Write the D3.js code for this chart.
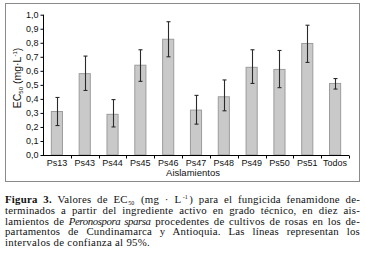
<!DOCTYPE html>
<html><head><meta charset="utf-8">
<script src="https://cdn.jsdelivr.net/npm/d3@7"></script>
<style>
body{margin:0;background:#fff;width:365px;height:260px;overflow:hidden;position:relative}
svg{position:absolute;left:0;top:0}
#cap{position:absolute;left:5px;top:194px;width:355px;font-family:"Liberation Serif","DejaVu Serif",serif;font-size:10.8px;line-height:10.8px;letter-spacing:0.3px;color:#111}
#cap .l{text-align:justify;text-align-last:justify;white-space:nowrap;height:10.8px}
#cap .last{text-align:left;text-align-last:left}
#cap i{letter-spacing:-0.4px}
.sb{font-size:6px;line-height:6px;vertical-align:baseline;position:relative;top:1.5px;margin:0 1px 0 0.5px;letter-spacing:0}
.sp{font-size:6px;line-height:6px;vertical-align:baseline;position:relative;top:-4px;margin:0 1.5px 0 1.5px;letter-spacing:0}
</style></head><body>
<svg id="c" width="365" height="260"></svg>
<div id="cap">
<div class="l"><b>Figura 3.</b> Valores de EC<span class="sb">50</span> (mg · L<span class="sp">-1</span>) para el fungicida fenamidone de-</div>
<div class="l">terminados a partir del ingrediente activo en grado técnico, en diez ais-</div>
<div class="l">lamientos de <i>Peronospora sparsa</i> procedentes de cultivos de rosas en los de-</div>
<div class="l">partamentos de Cundinamarca y Antioquia. Las líneas representan los</div>
<div class="l last">intervalos de confianza al 95%.</div>
</div>
<script>
const categories = ["Ps13","Ps43","Ps44","Ps45","Ps46","Ps47","Ps48","Ps49","Ps50","Ps51","Todos"];
const values = [0.31,0.58,0.29,0.64,0.825,0.32,0.415,0.625,0.61,0.795,0.51];
const lower  = [0.21,0.46,0.20,0.525,0.70,0.22,0.315,0.51,0.48,0.66,0.47];
const upper  = [0.41,0.705,0.395,0.75,0.95,0.425,0.535,0.75,0.745,0.925,0.545];
const yTicks = [0,0.1,0.2,0.3,0.4,0.5,0.6,0.7,0.8,0.9,1.0];

// shrink letter spacing of caption lines that are naturally wider than the column
document.querySelectorAll("#cap .l").forEach(el=>{
  const probe = document.createElement("span");
  probe.style.whiteSpace="nowrap";
  probe.innerHTML = el.innerHTML;
  el.innerHTML=""; el.appendChild(probe);
  const w = probe.getBoundingClientRect().width;
  el.innerHTML = probe.innerHTML;
  if (w > 353) {
    const n = el.textContent.length;
    el.style.letterSpacing = (0.3-(w-350)/n).toFixed(3)+"px";
  }
});

const svg = d3.select("#c");
svg.append("rect").attr("x",5.5).attr("y",3.5).attr("width",354).attr("height",178)
  .attr("fill","none").attr("stroke","#8a8a8a").attr("stroke-width",1);

const x = d3.scaleBand().domain(categories).range([43,349]).paddingInner(0.6).paddingOuter(0.3);
const y = d3.scaleLinear().domain([0,1]).range([155,14.7]);
const font = "Liberation Sans, Arial, sans-serif";

svg.selectAll("rect.bar").data(categories).join("rect").attr("class","bar")
  .attr("x",d=>x(d)).attr("width",x.bandwidth())
  .attr("y",(d,i)=>y(values[i])).attr("height",(d,i)=>y(0)-y(values[i]))
  .attr("fill","#c9c9c9").attr("stroke","#9c9c9c").attr("stroke-width",1);

const eg = svg.append("g").attr("stroke","#2a2a2a").attr("stroke-width",1.1);
categories.forEach((c,i)=>{
  const cx = Math.round(x(c)+x.bandwidth()/2)+0.5;
  eg.append("line").attr("x1",cx).attr("x2",cx).attr("y1",y(lower[i])).attr("y2",y(upper[i]));
  eg.append("line").attr("x1",cx-2).attr("x2",cx+2).attr("y1",y(lower[i])).attr("y2",y(lower[i]));
  eg.append("line").attr("x1",cx-2).attr("x2",cx+2).attr("y1",y(upper[i])).attr("y2",y(upper[i]));
});

const ya = svg.append("g").attr("transform","translate(43.5,0)")
  .call(d3.axisLeft(y).tickValues(yTicks).tickSize(3).tickPadding(2)
    .tickFormat(d=>d3.format(".1f")(d).replace(".",",")));
ya.selectAll("text").attr("font-family",font).attr("font-size","9px").attr("fill","#111");
ya.select(".domain").attr("d","M-0,"+y(0)+"V"+y(1));

const xa = svg.append("g").attr("transform","translate(0,"+(y(0)+0.5)+")");
xa.append("line").attr("x1",43).attr("x2",349).attr("stroke","#000");
const bounds = d3.range(categories.length+1).map(i=>43+i*(306/categories.length));
xa.selectAll("line.t").data(bounds.slice(1)).join("line").attr("class","t")
  .attr("x1",d=>Math.round(d)+0.5).attr("x2",d=>Math.round(d)+0.5).attr("y1",0).attr("y2",3).attr("stroke","#000");
xa.selectAll("text").data(categories).join("text")
  .attr("x",d=>x(d)+x.bandwidth()/2).attr("y",10.5).attr("text-anchor","middle")
  .attr("font-family",font).attr("font-size","9px").attr("fill","#111").text(d=>d);

svg.append("text").attr("x",193).attr("y",176).attr("text-anchor","middle")
  .attr("font-family",font).attr("font-size","9.5px").attr("fill","#111").text("Aislamientos");

const yl = svg.append("text").attr("transform","translate(21,78) rotate(-90)").attr("text-anchor","middle")
  .attr("font-family",font).attr("font-size","10.5px").attr("fill","#111");
yl.append("tspan").text("EC");
yl.append("tspan").attr("font-size","6px").attr("dy",2).text("50");
yl.append("tspan").attr("dy",-2).text(" (mg·L");
yl.append("tspan").attr("font-size","6px").attr("dy",-4).text("-1");
yl.append("tspan").attr("dy",4).text(")");
</script>
</body></html>
